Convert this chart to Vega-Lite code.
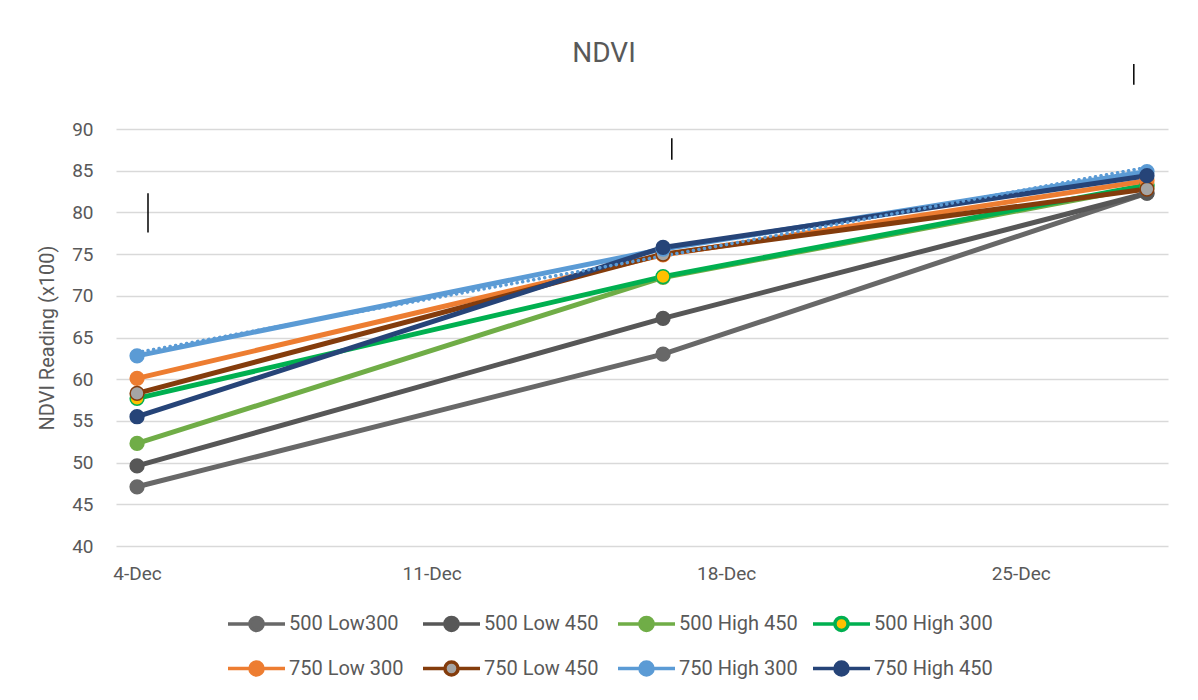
{
  "$schema": "https://vega.github.io/schema/vega-lite/v6.json",
  "autosize": "none",
  "padding": {"left": 116, "top": 129, "right": 30, "bottom": 154},
  "width": 1052,
  "height": 417,
  "background": "white",
  "title": {"text": "NDVI", "fontSize": 28, "font": "Roboto", "fontWeight": "normal", "color": "#595959", "offset": -5, "dx": -38, "anchor": "middle", "frame": "group"},
  "config": {
    "view": {"stroke": null},
    "axis": {"labelFont": "Roboto", "labelFontSize": 19, "labelColor": "#595959", "titleFont": "Roboto", "titleFontSize": 20, "titleColor": "#595959", "titleFontWeight": "normal", "domain": false, "ticks": false, "gridColor": "#D9D9D9", "gridWidth": 1.5},
    "legend": {"labelFont": "Roboto", "labelFontSize": 20, "labelColor": "#595959"}
  },
  "datasets": {
    "series": [
      {"series": "500 Low300", "date": "2019-12-04T00:00", "value": 47.1},
      {"series": "500 Low300", "date": "2019-12-16T12:00", "value": 63.0},
      {"series": "500 Low300", "date": "2019-12-28T00:00", "value": 82.3},
      {"series": "500 Low 450", "date": "2019-12-04T00:00", "value": 49.6},
      {"series": "500 Low 450", "date": "2019-12-16T12:00", "value": 67.3},
      {"series": "500 Low 450", "date": "2019-12-28T00:00", "value": 82.3},
      {"series": "500 High 450", "date": "2019-12-04T00:00", "value": 52.3},
      {"series": "500 High 450", "date": "2019-12-16T12:00", "value": 72.2},
      {"series": "500 High 450", "date": "2019-12-28T00:00", "value": 83.1},
      {"series": "500 High 300", "date": "2019-12-04T00:00", "value": 57.7},
      {"series": "500 High 300", "date": "2019-12-16T12:00", "value": 72.3},
      {"series": "500 High 300", "date": "2019-12-28T00:00", "value": 83.3},
      {"series": "750 Low 300", "date": "2019-12-04T00:00", "value": 60.1},
      {"series": "750 Low 300", "date": "2019-12-16T12:00", "value": 74.9},
      {"series": "750 Low 300", "date": "2019-12-28T00:00", "value": 83.8},
      {"series": "750 Low 450", "date": "2019-12-04T00:00", "value": 58.3},
      {"series": "750 Low 450", "date": "2019-12-16T12:00", "value": 75.0},
      {"series": "750 Low 450", "date": "2019-12-28T00:00", "value": 82.8},
      {"series": "750 High 300", "date": "2019-12-04T00:00", "value": 62.8},
      {"series": "750 High 300", "date": "2019-12-16T12:00", "value": 75.6},
      {"series": "750 High 300", "date": "2019-12-28T00:00", "value": 84.9},
      {"series": "750 High 450", "date": "2019-12-04T00:00", "value": 55.5},
      {"series": "750 High 450", "date": "2019-12-16T12:00", "value": 75.8},
      {"series": "750 High 450", "date": "2019-12-28T00:00", "value": 84.4}
    ],
    "trend": [
      {"date": "2019-12-04T00:00", "value": 63.2},
      {"date": "2019-12-28T00:00", "value": 85.4}
    ],
    "errors": [
      {"date": "2019-12-04T06:15", "lo": 77.6, "hi": 82.3},
      {"date": "2019-12-16T17:00", "lo": 86.3, "hi": 88.9},
      {"date": "2019-12-27T16:30", "lo": 95.3, "hi": 97.8}
    ]
  },
  "layer": [
    {
      "data": {"name": "series"},
      "mark": {"type": "line", "strokeWidth": 5, "strokeCap": "round"},
      "encoding": {
        "x": {"field": "date", "type": "temporal",
          "scale": {"domain": [{"year": 2019, "month": 12, "date": 3, "hours": 12}, {"year": 2019, "month": 12, "date": 28, "hours": 12}]},
          "axis": {"title": null, "grid": false, "format": "%-d-%b", "labelPadding": 18,
            "values": [{"year": 2019, "month": 12, "date": 4}, {"year": 2019, "month": 12, "date": 11}, {"year": 2019, "month": 12, "date": 18}, {"year": 2019, "month": 12, "date": 25}]}},
        "y": {"field": "value", "type": "quantitative",
          "scale": {"domain": [40, 90], "nice": false, "zero": false},
          "axis": {"title": "NDVI Reading (x100)", "values": [40, 45, 50, 55, 60, 65, 70, 75, 80, 85, 90], "labelPadding": 23, "titlePadding": 14}},
        "stroke": {"field": "series", "type": "nominal",
          "scale": {"domain": ["500 Low300", "500 Low 450", "500 High 450", "500 High 300", "750 Low 300", "750 Low 450", "750 High 300", "750 High 450"],
            "range": ["#686868", "#575757", "#70AD47", "#00B050", "#ED7D31", "#843C0C", "#5B9BD5", "#264478"]},
          "legend": {"title": null, "orient": "none", "direction": "horizontal", "legendX": 110, "legendY": 464, "columns": 4, "gridAlign": "all", "columnPadding": 8, "rowPadding": -17, "labelOffset": 2,
            "symbolType": "M-1,0L-0.23,0M0.23,0L1,0M-0.23,0A0.23,0.23,0,1,1,0.23,0A0.23,0.23,0,1,1,-0.23,0", "symbolSize": 3249, "symbolStrokeWidth": 3.5}}
      }
    },
    {
      "data": {"name": "trend"},
      "mark": {"type": "line", "color": "#5B9BD5", "strokeWidth": 3.5, "strokeDash": [0.1, 5.5], "strokeCap": "round"},
      "encoding": {
        "x": {"field": "date", "type": "temporal"},
        "y": {"field": "value", "type": "quantitative"}
      }
    },
    {
      "data": {"name": "series"},
      "mark": {"type": "point", "filled": false, "size": 190, "strokeWidth": 1.5, "opacity": 1, "fillOpacity": 1},
      "encoding": {
        "x": {"field": "date", "type": "temporal"},
        "y": {"field": "value", "type": "quantitative"},
        "stroke": {"field": "series", "type": "nominal"},
        "fill": {"field": "series", "type": "nominal",
          "scale": {"domain": ["500 Low300", "500 Low 450", "500 High 450", "500 High 300", "750 Low 300", "750 Low 450", "750 High 300", "750 High 450"],
            "range": ["#686868", "#575757", "#70AD47", "#FFC000", "#ED7D31", "#A5A5A5", "#5B9BD5", "#264478"]},
          "legend": {"title": null, "orient": "none", "direction": "horizontal", "legendX": 110, "legendY": 464, "columns": 4, "gridAlign": "all", "columnPadding": 8, "rowPadding": -17, "labelOffset": 2,
            "symbolType": "M-1,0L-0.23,0M0.23,0L1,0M-0.23,0A0.23,0.23,0,1,1,0.23,0A0.23,0.23,0,1,1,-0.23,0", "symbolSize": 3249, "symbolStrokeWidth": 3.5}}
      }
    },
    {
      "data": {"name": "errors"},
      "mark": {"type": "rule", "color": "#000000", "strokeWidth": 1.5},
      "encoding": {
        "x": {"field": "date", "type": "temporal"},
        "y": {"field": "lo", "type": "quantitative"},
        "y2": {"field": "hi"}
      }
    }
  ]
}
